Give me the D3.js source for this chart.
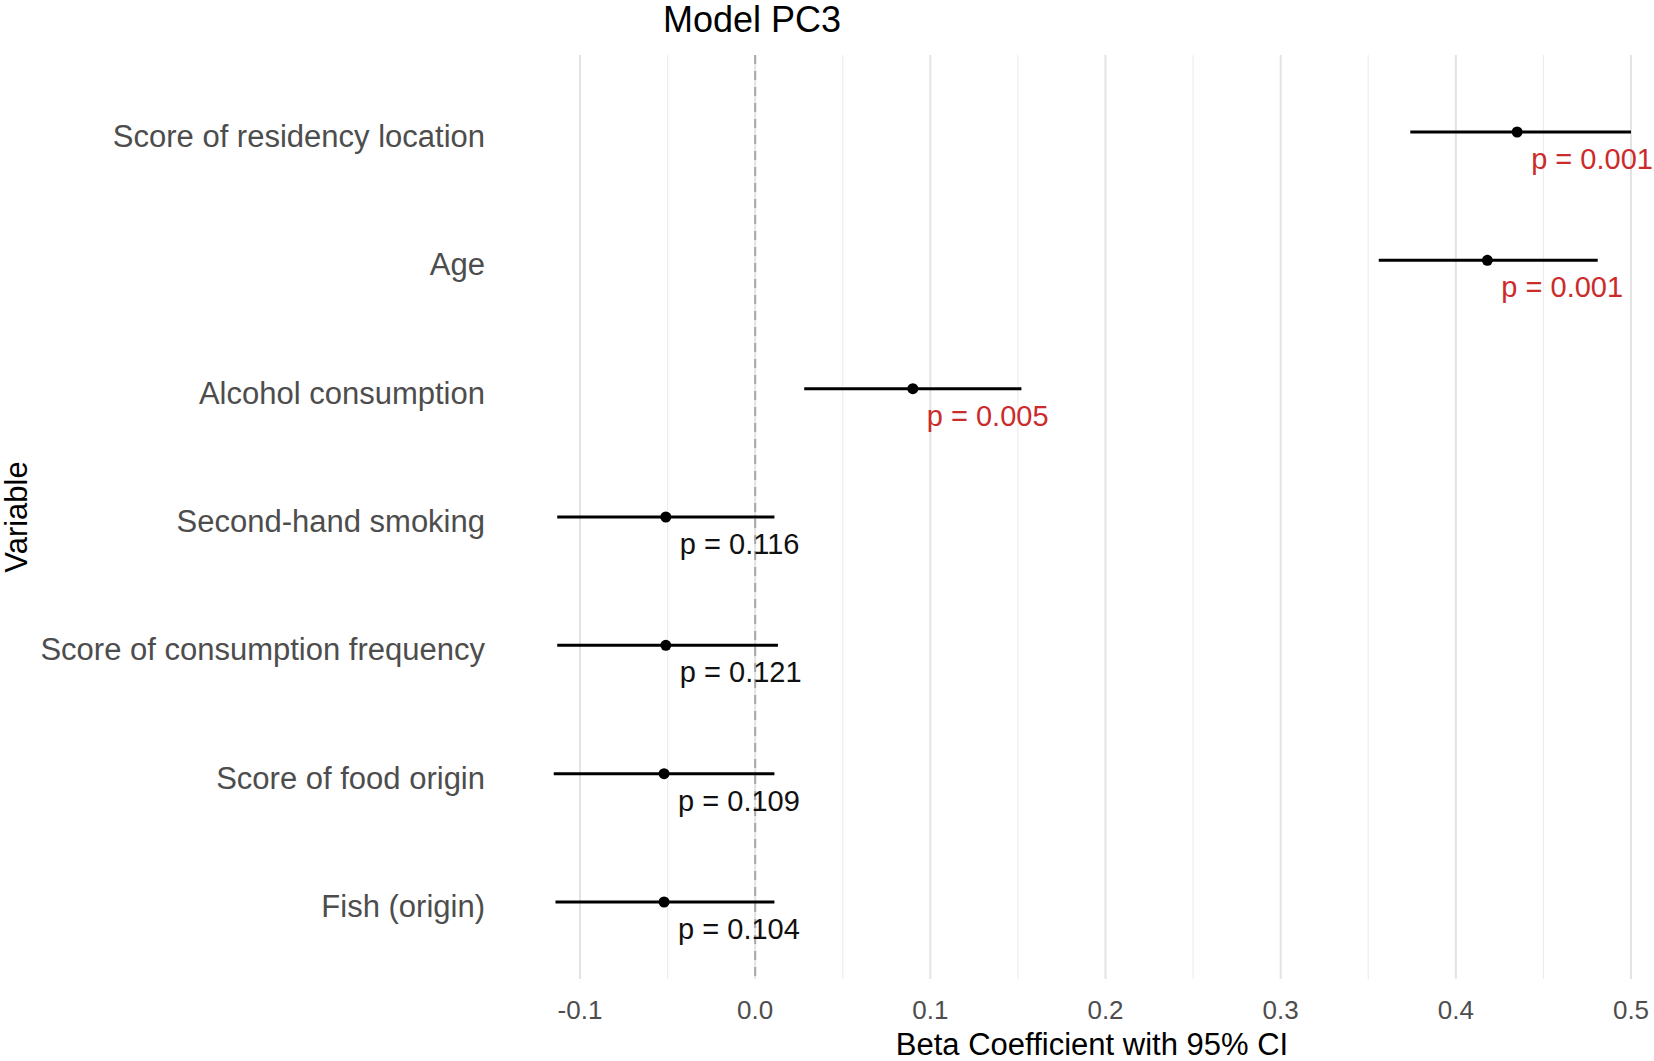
<!DOCTYPE html>
<html>
<head>
<meta charset="utf-8">
<script src="https://cdn.jsdelivr.net/npm/d3@7"></script>
<style>
  body { margin: 0; background: #fff; }
  svg { display: block; font-family: "Liberation Sans", Arial, sans-serif; }
</style>
</head>
<body>
<script>
const variables = [
  "Score of residency location",
  "Age",
  "Alcohol consumption",
  "Second-hand smoking",
  "Score of consumption frequency",
  "Score of food origin",
  "Fish (origin)"
];
const estimates = [0.435, 0.418, 0.090, -0.051, -0.051, -0.052, -0.052];
const lower = [0.374, 0.356, 0.028, -0.113, -0.113, -0.115, -0.114];
const upper = [0.500, 0.481, 0.152, 0.011, 0.013, 0.011, 0.011];
const pValues = [0.001, 0.001, 0.005, 0.116, 0.121, 0.109, 0.104];
const majorTicks = [-0.1, 0.0, 0.1, 0.2, 0.3, 0.4, 0.5];
const minorTicks = [-0.05, 0.05, 0.15, 0.25, 0.35, 0.45];

const width = 1654;
const height = 1061;

const rows = variables.map((v, i) => ({
  name: v, est: estimates[i], lo: lower[i], hi: upper[i], p: pValues[i]
}));

const svg = d3.select("body").append("svg")
  .attr("width", width)
  .attr("height", height);

// x: -0.1 at 580, 0.5 at 1631
const x = d3.scaleLinear().domain([-0.1, 0.5]).range([580, 1631]);
const y = d3.scalePoint().domain(variables).range([55, 979]).padding(0.6);

const panelTop = 55, panelBottom = 979;

// grid
svg.append("g").selectAll("line")
  .data(minorTicks).enter().append("line")
  .attr("x1", d => x(d)).attr("x2", d => x(d))
  .attr("y1", panelTop).attr("y2", panelBottom)
  .attr("stroke", "#ededed").attr("stroke-width", 1.2);

svg.append("g").selectAll("line")
  .data(majorTicks).enter().append("line")
  .attr("x1", d => x(d)).attr("x2", d => x(d))
  .attr("y1", panelTop).attr("y2", panelBottom)
  .attr("stroke", "#e3e3e3").attr("stroke-width", 2);

// zero reference
svg.append("line")
  .attr("x1", x(0)).attr("x2", x(0))
  .attr("y1", panelTop).attr("y2", panelBottom)
  .attr("stroke", "#a8a8a8").attr("stroke-width", 2)
  .attr("stroke-dasharray", "9,7");

// CIs
svg.append("g").selectAll("line")
  .data(rows).enter().append("line")
  .attr("x1", d => x(d.lo)).attr("x2", d => x(d.hi))
  .attr("y1", d => y(d.name)).attr("y2", d => y(d.name))
  .attr("stroke", "#000").attr("stroke-width", 3);

svg.append("g").selectAll("circle")
  .data(rows).enter().append("circle")
  .attr("cx", d => x(d.est)).attr("cy", d => y(d.name))
  .attr("r", 5.5).attr("fill", "#000");

// p labels
svg.append("g").selectAll("text")
  .data(rows).enter().append("text")
  .attr("x", d => x(d.est) + 14)
  .attr("y", d => y(d.name) + 37)
  .attr("font-size", 29)
  .attr("fill", d => d.p < 0.05 ? "#cc2b2b" : "#111")
  .text(d => "p = " + d3.format(".3f")(d.p));

// y axis labels
svg.append("g").selectAll("text")
  .data(variables).enter().append("text")
  .attr("x", 485)
  .attr("y", d => y(d) + 4)
  .attr("dy", "0.35em")
  .attr("text-anchor", "end")
  .attr("font-size", 31)
  .attr("fill", "#4d4d4d")
  .text(d => d);

// x axis tick labels
svg.append("g").selectAll("text")
  .data(majorTicks).enter().append("text")
  .attr("x", d => x(d))
  .attr("y", 1010)
  .attr("dy", "0.35em")
  .attr("text-anchor", "middle")
  .attr("font-size", 26)
  .attr("fill", "#4d4d4d")
  .text(d => d3.format(".1f")(d).replace("\u2212", "-"));

// titles
svg.append("text")
  .attr("x", 1092).attr("y", 1044).attr("dy", "0.35em")
  .attr("text-anchor", "middle").attr("font-size", 31).attr("fill", "#000")
  .text("Beta Coefficient with 95% CI");

svg.append("text")
  .attr("transform", "translate(16,517) rotate(-90)")
  .attr("dy", "0.35em")
  .attr("text-anchor", "middle").attr("font-size", 31).attr("fill", "#000")
  .text("Variable");

svg.append("text")
  .attr("x", 752).attr("y", 19).attr("dy", "0.35em")
  .attr("text-anchor", "middle").attr("font-size", 36).attr("fill", "#000")
  .text("Model PC3");
</script>
</body>
</html>
